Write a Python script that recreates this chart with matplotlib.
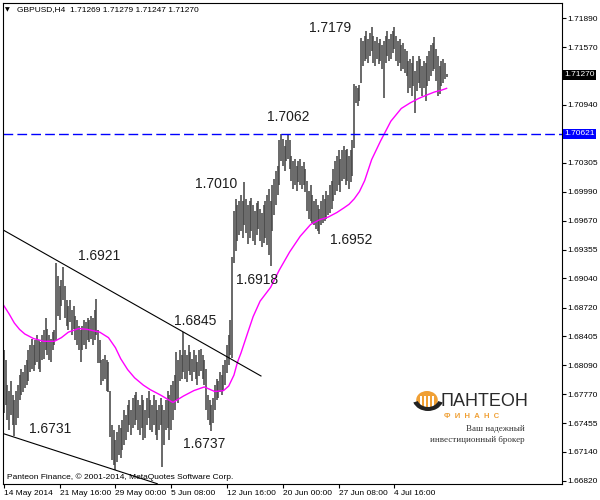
import matplotlib
matplotlib.use("Agg")
import matplotlib.pyplot as plt
from matplotlib.patches import Circle, Wedge, Rectangle

plt.rcParams['font.family'] = ['Liberation Sans', 'DejaVu Sans']

# данные графика GBPUSD H4
symbol = "GBPUSD,H4"
last_ohlc = [1.71269, 1.71279, 1.71247, 1.71270]

highs = [
    1.6825, 1.6814, 1.6787, 1.6781, 1.6792, 1.6776, 1.6771, 1.6781, 1.6787, 1.6798,
    1.6805, 1.6801, 1.6809, 1.6814, 1.6825, 1.6831, 1.6838, 1.6831, 1.6836, 1.6842,
    1.6836, 1.6834, 1.6842, 1.6847, 1.6861, 1.6849, 1.6842, 1.6838, 1.6845, 1.6847,
    1.6921, 1.6907, 1.6896, 1.6902, 1.6916, 1.6896, 1.6880, 1.6874, 1.6880, 1.6869,
    1.6874, 1.6863, 1.6858, 1.6852, 1.6847, 1.6852, 1.6858, 1.6856, 1.6860, 1.6858,
    1.6863, 1.6860, 1.6869, 1.6881, 1.6847, 1.6836, 1.6814, 1.6816, 1.6820, 1.6814,
    1.6812, 1.6781, 1.6743, 1.6738, 1.6727, 1.6736, 1.6743, 1.6740, 1.6749, 1.6760,
    1.6754, 1.6765, 1.6771, 1.6760, 1.6773, 1.6776, 1.6779, 1.6771, 1.6765, 1.6776,
    1.6771, 1.6760, 1.6773, 1.6781, 1.6771, 1.6765, 1.6776, 1.6771, 1.6760, 1.6765,
    1.6773, 1.6765, 1.6760, 1.6771, 1.6781, 1.6776, 1.6787, 1.6792, 1.6798, 1.6823,
    1.6814, 1.6825, 1.6820, 1.6845, 1.6825, 1.6820, 1.6831, 1.6823, 1.6816, 1.6825,
    1.6820, 1.6812, 1.6825, 1.6827, 1.6820, 1.6814, 1.6805, 1.6776, 1.6771, 1.6765,
    1.6773, 1.6787, 1.6794, 1.6792, 1.6801, 1.6798, 1.6809, 1.6814, 1.6831, 1.6842,
    1.6858, 1.6927, 1.6978, 1.6991, 1.6984, 1.6989, 1.6995, 1.6989, 1.7010, 1.6991,
    1.6984, 1.6989, 1.6992, 1.6984, 1.6978, 1.6987, 1.6989, 1.6980, 1.6976, 1.6984,
    1.6989, 1.6995, 1.7002, 1.6989, 1.7006, 1.7013, 1.7022, 1.7027, 1.7055, 1.7062,
    1.7057, 1.7049, 1.7055, 1.7062, 1.7055, 1.7038, 1.7033, 1.7035, 1.7027, 1.7033,
    1.7035, 1.7027, 1.7031, 1.7024, 1.7011, 1.7000, 1.7006, 1.6995, 1.6989, 1.6991,
    1.6984, 1.6980, 1.6989, 1.6995, 1.6991, 1.7000, 1.6995, 1.7006, 1.7011, 1.7024,
    1.7033, 1.7038, 1.7044, 1.7035, 1.7044, 1.7049, 1.7044, 1.7046, 1.7038, 1.7044,
    1.7055, 1.7117, 1.7115, 1.7112, 1.7116, 1.7167, 1.7164, 1.7169, 1.7175, 1.7166,
    1.7173, 1.7179, 1.7169, 1.7164, 1.7168, 1.7162, 1.7166, 1.7159, 1.7164, 1.7169,
    1.7175, 1.7166, 1.7172, 1.7175, 1.7179, 1.7169, 1.7164, 1.7166, 1.7159, 1.7162,
    1.7155, 1.7153, 1.7142, 1.7144, 1.7140, 1.7148, 1.7131, 1.7142, 1.7148, 1.7144,
    1.7137, 1.7142, 1.7140, 1.7148, 1.7153, 1.7159, 1.7162, 1.7168, 1.7155, 1.7148,
    1.7137, 1.7142, 1.7144, 1.7140, 1.71279,
]

lows = [
    1.6757, 1.6765, 1.6749, 1.6738, 1.6754, 1.6743, 1.6731, 1.6743, 1.6751, 1.6771,
    1.6776, 1.6779, 1.6784, 1.6787, 1.6792, 1.6801, 1.6805, 1.6803, 1.6809, 1.6812,
    1.6805, 1.6801, 1.6814, 1.6816, 1.6825, 1.6820, 1.6814, 1.6812, 1.6825, 1.6831,
    1.6836, 1.6863, 1.6858, 1.6874, 1.6880, 1.6860, 1.6852, 1.6847, 1.6856, 1.6842,
    1.6849, 1.6836, 1.6831, 1.6825, 1.6812, 1.6825, 1.6831, 1.6827, 1.6836, 1.6834,
    1.6838, 1.6831, 1.6836, 1.6842, 1.6811, 1.6811, 1.6787, 1.6792, 1.6794, 1.6781,
    1.6779, 1.6730, 1.6705, 1.6699, 1.6694, 1.6703, 1.6710, 1.6707, 1.6716, 1.6721,
    1.6727, 1.6736, 1.6743, 1.6732, 1.6740, 1.6743, 1.6749, 1.6738, 1.6732, 1.6740,
    1.6727, 1.6729, 1.6743, 1.6751, 1.6738, 1.6736, 1.6743, 1.6732, 1.6727, 1.6738,
    1.6743, 1.6697, 1.6721, 1.6738, 1.6740, 1.6727, 1.6738, 1.6749, 1.6760, 1.6771,
    1.6767, 1.6792, 1.6794, 1.6801, 1.6794, 1.6790, 1.6803, 1.6798, 1.6792, 1.6801,
    1.6794, 1.6787, 1.6797, 1.6803, 1.6794, 1.6787, 1.6760, 1.6749, 1.6743, 1.6737,
    1.6746, 1.6760, 1.6771, 1.6773, 1.6779, 1.6776, 1.6781, 1.6787, 1.6800, 1.6809,
    1.6820, 1.6817, 1.6921, 1.6934, 1.6945, 1.6951, 1.6956, 1.6948, 1.6962, 1.6954,
    1.6942, 1.6948, 1.6956, 1.6945, 1.6940, 1.6951, 1.6958, 1.6945, 1.6938, 1.6943,
    1.6948, 1.6940, 1.6929, 1.6918, 1.6956, 1.6973, 1.6984, 1.6995, 1.7006, 1.7033,
    1.7027, 1.7022, 1.7033, 1.7035, 1.7024, 1.7011, 1.7002, 1.7006, 1.7000, 1.7009,
    1.7006, 1.7002, 1.7006, 1.6998, 1.6978, 1.6969, 1.6967, 1.6965, 1.6962, 1.6958,
    1.6956, 1.6952, 1.6962, 1.6965, 1.6967, 1.6969, 1.6973, 1.6976, 1.6980, 1.6989,
    1.6995, 1.7000, 1.7006, 1.6998, 1.7011, 1.7013, 1.7006, 1.7011, 1.7002, 1.7009,
    1.7016, 1.7047, 1.7096, 1.7093, 1.7098, 1.7118, 1.7137, 1.7142, 1.7144, 1.7140,
    1.7148, 1.7153, 1.7140, 1.7137, 1.7144, 1.7139, 1.7142, 1.7133, 1.7102, 1.7140,
    1.7148, 1.7142, 1.7144, 1.7151, 1.7155, 1.7142, 1.7137, 1.7140, 1.7131, 1.7133,
    1.7129, 1.7126, 1.7107, 1.7112, 1.7104, 1.7115, 1.7085, 1.7109, 1.7118, 1.7112,
    1.7104, 1.7112, 1.7098, 1.7115, 1.7120, 1.7126, 1.7131, 1.7133, 1.7120, 1.7104,
    1.7106, 1.7115, 1.7118, 1.7122, 1.71247,
]

# скользящая средняя (розовая линия)
ma_bars = [0, 3, 6, 9, 12, 17, 23, 29, 33, 37, 43, 48, 55, 60, 64, 67, 71, 75, 80,
           84, 90, 97, 103, 109, 115, 121, 126, 129, 132, 134, 136, 140, 143, 147,
           153, 158, 164, 170, 176, 181, 186, 191, 195, 198, 201, 204, 207, 211,
           216, 222, 228, 233, 238, 243, 247, 251, 254]
ma_values = [1.6874, 1.6865, 1.6855, 1.6848, 1.6843, 1.6838, 1.6835, 1.6835, 1.6839,
             1.6845, 1.6849, 1.6848, 1.6845, 1.6839, 1.6828, 1.6816, 1.6804, 1.6795,
             1.6787, 1.6782, 1.6776, 1.6768, 1.6775, 1.6781, 1.6785, 1.6780, 1.6781,
             1.6786, 1.6798, 1.6812, 1.6822, 1.6845, 1.6862, 1.6879, 1.6894, 1.6913,
             1.6933, 1.6950, 1.6963, 1.6968, 1.6971, 1.6976, 1.6981, 1.6985, 1.6991,
             1.6999, 1.7011, 1.7034, 1.7054, 1.7076, 1.7090, 1.7096, 1.7101, 1.7105,
             1.7108, 1.7110, 1.7112]

upper_trend_bars = [-0.5, 147.5]
upper_trend_prices = [1.6957, 1.6797]
lower_trend_bars = [-0.5, 88]
lower_trend_prices = [1.6734, 1.6679]

level_price = 1.70621

peak_labels = ["1.7179", "1.7062", "1.7010", "1.6921", "1.6845",
               "1.6918", "1.6952", "1.6731", "1.6737"]
peak_label_bars = [187, 163, 121.5, 54.5, 109.5, 145, 199, 26.5, 115]
peak_label_prices = [1.7178, 1.7081, 1.7007, 1.6928, 1.6857,
                     1.6902, 1.6946, 1.6739, 1.6722]

price_ticks = [1.66820, 1.67140, 1.67455, 1.67770, 1.68090, 1.68405, 1.68720,
               1.69040, 1.69355, 1.69670, 1.69990, 1.70305, 1.70940, 1.71570, 1.71890]
date_tick_bars = [0, 32, 64, 96, 128, 160, 192, 224]
date_tick_labels = ["14 May 2014", "21 May 16:00", "29 May 00:00", "5 Jun 08:00",
                    "12 Jun 16:00", "20 Jun 00:00", "27 Jun 08:00", "4 Jul 16:00"]


def fx(px):
    return px / 600


def fy(py):
    return 1 - py / 500


fig = plt.figure(figsize=(6, 5), dpi=100)
ax = fig.add_axes([fx(3), 16 / 500, 559 / 600, 481 / 500])

ax.vlines(range(len(highs)), lows, highs, color='#474747', lw=1.15)
ax.plot(ma_bars, ma_values, color='#ff00ff', lw=1.0)
ax.plot(upper_trend_bars, upper_trend_prices, color='black', lw=0.8)
ax.plot(lower_trend_bars, lower_trend_prices, color='black', lw=0.8)
ax.axhline(level_price, color='#0000ff', lw=1.0, linestyle=(0, (7, 3)))

for txt, b, p in zip(peak_labels, peak_label_bars, peak_label_prices):
    ax.text(b, p, txt, ha='center', va='center', fontsize=10, color='#1e1e1e')

ax.set_xlim(-0.5, 320.2)
ax.set_ylim(1.66787, 1.72055)

ax.yaxis.tick_right()
ax.set_yticks(price_ticks)
ax.set_yticklabels([f"{v:.5f}" for v in price_ticks])
ax.tick_params(axis='y', labelsize=6, length=3, pad=1, direction='out')
ax.set_xticks(date_tick_bars)
ax.set_xticklabels(date_tick_labels, ha='left')
ax.tick_params(axis='x', labelsize=6, length=3, pad=1, direction='out')
for s in ax.spines.values():
    s.set_linewidth(0.8)

# метки цены на шкале
ytr = ax.get_yaxis_transform()
ax.text(1.004, level_price, f"{level_price:.5f}", transform=ytr, fontsize=6,
        color='white', va='center', ha='left',
        bbox=dict(facecolor='#0000ff', edgecolor='none', pad=1.2))
ax.text(1.004, last_ohlc[3], f"{last_ohlc[3]:.5f}", transform=ytr, fontsize=6,
        color='white', va='center', ha='left',
        bbox=dict(facecolor='black', edgecolor='none', pad=1.2))

# заголовок и подпись
fig.text(fx(5), fy(10), "\u25bc", family='DejaVu Sans', fontsize=4.5, va='center')
fig.text(fx(17), fy(10), symbol + "  " + " ".join(f"{v:.5f}" for v in last_ohlc),
         fontsize=6, va='center')
fig.text(fx(7), fy(477), "Panteon Finance, \u00a9 2001-2014, MetaQuotes Software Corp.",
         fontsize=6, va='center')

# логотип
emblem = Circle((fx(427), fy(400)), 0.018, transform=fig.transFigure,
                facecolor='#f0a035', edgecolor='none')
fig.patches.append(emblem)
for cx in [420, 424, 428, 432]:
    fig.patches.append(Rectangle((fx(cx), fy(408)), 1.6 / 600, 12 / 500,
                                 transform=fig.transFigure, facecolor='white',
                                 edgecolor='none'))
fig.patches.append(Wedge((fx(428), fy(398)), 0.026, 200, 340, width=0.008,
                         transform=fig.transFigure, facecolor='#222222',
                         edgecolor='none'))
fig.text(fx(441), fy(402), "ПАНТЕОН", fontsize=13, color='#2a2a2a', va='center',
         ha='left')
fig.text(fx(444), fy(416), "Ф  И  Н  А  Н  С", fontsize=5.5, color='#f0a035',
         va='center', ha='left', weight='bold')
fig.text(fx(525), fy(429), "Ваш надежный", fontsize=6.5, color='#333333',
         va='center', ha='right', family='Liberation Serif')
fig.text(fx(525), fy(440), "инвестиционный брокер", fontsize=6.5, color='#333333',
         va='center', ha='right', family='Liberation Serif')

fig.savefig("out.png", dpi=100)
